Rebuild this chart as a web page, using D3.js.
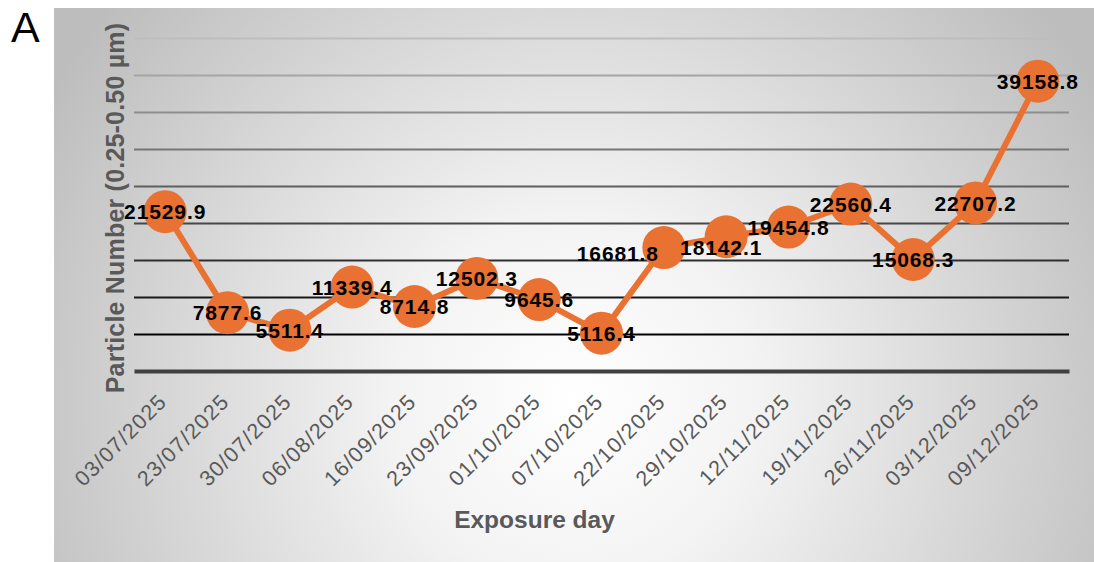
<!DOCTYPE html>
<html>
<head>
<meta charset="utf-8">
<script src="https://cdn.jsdelivr.net/npm/d3@7"></script>
<style>
  html, body { margin: 0; padding: 0; background: #fff; }
  svg { display: block; }
</style>
</head>
<body>
<svg id="chart" width="1094" height="562"></svg>
<script>
// Exposure days and particle counts (0.25–0.50 µm)
const exposureDays = [
  "03/07/2025", "23/07/2025", "30/07/2025", "06/08/2025", "16/09/2025",
  "23/09/2025", "01/10/2025", "07/10/2025", "22/10/2025", "29/10/2025",
  "12/11/2025", "19/11/2025", "26/11/2025", "03/12/2025", "09/12/2025"
];
const particleNumber = [
  21529.9, 7877.6, 5511.4, 11339.4, 8714.8,
  12502.3, 9645.6, 5116.4, 16681.8, 18142.1,
  19454.8, 22560.4, 15068.3, 22707.2, 39158.8
];
const yTicks = [0, 5000, 10000, 15000, 20000, 25000, 30000, 35000, 40000, 45000];

const panelLabel = "A";
const xTitle = "Exposure day";
const yTitle = "Particle Number (0.25-0.50 µm)";

const svg = d3.select("#chart");
const orange = "#E97132";
const textGrey = "#595959";

// Chart-area background with a radial white-to-grey fill
const defs = svg.append("defs");
const grad = defs.append("radialGradient")
  .attr("id", "bgGrad")
  .attr("gradientUnits", "userSpaceOnUse")
  .attr("cx", 575).attr("cy", 400).attr("r", 610)
  .attr("fx", 575).attr("fy", 400);
grad.append("stop").attr("offset", 0).attr("stop-color", "#ffffff");
grad.append("stop").attr("offset", 0.3).attr("stop-color", "#f3f3f3");
grad.append("stop").attr("offset", 1).attr("stop-color", "#bdbdbd");

svg.append("rect")
  .attr("x", 54).attr("y", 8)
  .attr("width", 1040).attr("height", 554)
  .attr("fill", "url(#bgGrad)");

// Scales
const x = d3.scaleBand().domain(exposureDays).range([134, 1069]);
const y = d3.scaleLinear().domain([0, 45000]).range([371, 38]);
const cx = d => x(d) + x.bandwidth() / 2;

// Horizontal gridlines, fading from light grey at the top to black near the axis
const gridTicks = yTicks.filter(t => t > 0);
const gridColor = d3.scaleLinear()
  .domain([d3.max(gridTicks), d3.min(gridTicks)])
  .range(["#bdbdbd", "#000000"])
  .interpolate(d3.interpolateRgb);

const yAxis = d3.axisLeft(y).tickValues(gridTicks).tickSize(-(1069 - 134)).tickFormat("");
const gridG = svg.append("g")
  .attr("transform", "translate(134,0)")
  .call(yAxis);
gridG.select(".domain").remove();
gridG.selectAll(".tick line")
  .attr("stroke", d => gridColor(d))
  .attr("stroke-width", 1.8);

// X axis: thick baseline and rotated date labels
const xAxis = d3.axisBottom(x).tickSize(0).tickSizeOuter(0);
const xG = svg.append("g")
  .attr("transform", `translate(0,${y(0)})`)
  .call(xAxis);
xG.select(".domain")
  .attr("stroke", "#404040")
  .attr("stroke-width", 4);
xG.selectAll(".tick text")
  .attr("font-family", "'Liberation Sans', Arial, sans-serif")
  .attr("font-size", 21.5)
  .attr("letter-spacing", 1.2)
  .attr("fill", textGrey)
  .attr("text-anchor", "end")
  .attr("dy", 0)
  .attr("y", 0)
  .attr("transform", "translate(3,32) rotate(-45)");

// Line
const line = d3.line()
  .x((d, i) => cx(exposureDays[i]))
  .y(d => y(d));

svg.append("path")
  .datum(particleNumber)
  .attr("d", line)
  .attr("fill", "none")
  .attr("stroke", orange)
  .attr("stroke-width", 6)
  .attr("stroke-linejoin", "round");

// Markers
svg.append("g")
  .selectAll("circle")
  .data(particleNumber)
  .join("circle")
  .attr("cx", (d, i) => cx(exposureDays[i]))
  .attr("cy", d => y(d))
  .attr("r", 21.5)
  .attr("fill", orange);

// Data labels (a couple are nudged off their markers)
const labelNudge = { "22/10/2025": [-46, 6], "29/10/2025": [-5, 11] };
const labelSize = 21;
svg.append("g")
  .selectAll("text")
  .data(particleNumber)
  .join("text")
  .attr("x", (d, i) => cx(exposureDays[i]) + (labelNudge[exposureDays[i]] || [0, 0])[0])
  .attr("y", (d, i) => y(d) + (labelNudge[exposureDays[i]] || [0, 0])[1] + labelSize * 0.36)
  .attr("text-anchor", "middle")
  .attr("font-family", "'Liberation Sans', Arial, sans-serif")
  .attr("font-weight", "bold")
  .attr("font-size", labelSize)
  .attr("letter-spacing", 0.9)
  .attr("fill", "#000")
  .text(d => d.toFixed(1));

// Axis titles
svg.append("text")
  .attr("x", 534.5).attr("y", 528)
  .attr("text-anchor", "middle")
  .attr("font-family", "'Liberation Sans', Arial, sans-serif")
  .attr("font-weight", "bold")
  .attr("font-size", 24.5)
  .attr("fill", textGrey)
  .text(xTitle);

svg.append("text")
  .attr("transform", "translate(124,208) rotate(-90)")
  .attr("text-anchor", "middle")
  .attr("font-family", "'Liberation Sans', Arial, sans-serif")
  .attr("font-weight", "bold")
  .attr("font-size", 25)
  .attr("letter-spacing", 0.2)
  .attr("fill", textGrey)
  .text(yTitle);

// Panel letter
svg.append("text")
  .attr("x", 11).attr("y", 42)
  .attr("font-family", "'Liberation Sans', Arial, sans-serif")
  .attr("font-size", 43)
  .attr("fill", "#000")
  .text(panelLabel);
</script>
</body>
</html>
